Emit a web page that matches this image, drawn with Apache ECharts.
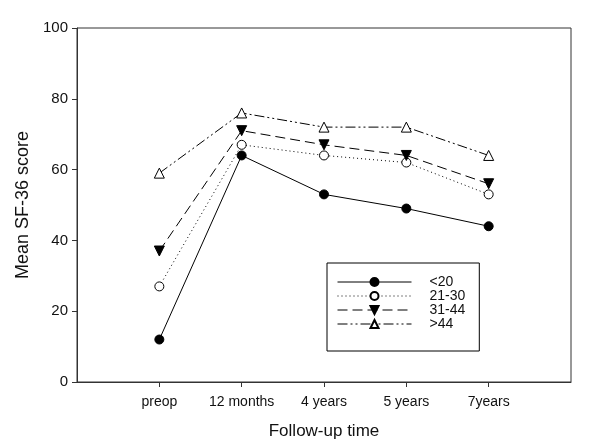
<!DOCTYPE html>
<html><head><meta charset="utf-8">
<script src="https://cdn.jsdelivr.net/npm/echarts@6/dist/echarts.min.js"></script>
<style>html,body{margin:0;padding:0;background:#fff}#c{width:600px;height:445px}</style>
</head><body><div id="c"></div>
<script>
var categories = ['', 'preop', '12 months', '4 years', '5 years', '7years', ''];
var seriesNames = ['<20', '21-30', '31-44', '>44'];
var lt20 = [null, 12, 64, 53, 49, 44, null];
var g21_30 = [null, 27, 67, 64, 62, 53, null];
var g31_44 = [null, 37, 71, 67, 64, 56, null];
var gt44 = [null, 59, 76, 72, 72, 64, null];
var yTicks = [0, 20, 40, 60, 80, 100];

var font = 'Liberation Sans, Arial, sans-serif';
var chart = echarts.init(document.getElementById('c'));
function mk(name, data, symbol, fill, dash, rotate, size) {
  return {
    name: name, type: 'line', data: data, symbol: symbol, symbolSize: size,
    symbolRotate: rotate, showAllSymbol: true, connectNulls: false,
    lineStyle: {color: '#000', width: 1, type: dash},
    itemStyle: {color: fill, borderColor: '#000', borderWidth: 1},
    emphasis: {disabled: true}, animation: false
  };
}
chart.setOption({
  animation: false,
  grid: {left: 77, top: 28, right: 29, bottom: 62, show: true, borderColor: '#333', borderWidth: 1},
  xAxis: {
    type: 'category', data: categories, boundaryGap: false,
    name: 'Follow-up time', nameLocation: 'middle', nameGap: 41,
    nameTextStyle: {fontFamily: font, fontSize: 17, color: '#111'},
    axisLine: {lineStyle: {color: '#333'}},
    axisTick: {length: 5, lineStyle: {color: '#333'}, interval: function (i, v) { return v !== ''; }},
    axisLabel: {interval: 0, margin: 13, fontFamily: font, fontSize: 14, color: '#111'},
    splitLine: {show: false}
  },
  yAxis: {
    type: 'value', min: 0, max: 100, interval: 20,
    name: 'Mean SF-36 score', nameLocation: 'middle', nameGap: 45,
    nameTextStyle: {fontFamily: font, fontSize: 18, color: '#111'},
    axisLine: {show: true, lineStyle: {color: '#333'}},
    axisTick: {show: true, length: 5, lineStyle: {color: '#333'}},
    axisLabel: {margin: 9, fontFamily: font, fontSize: 15, color: '#111',
      formatter: function (v) { return yTicks.indexOf(v) >= 0 ? String(v) : ''; }},
    splitLine: {show: false}
  },
  legend: {
    orient: 'vertical', left: 327, top: 263,
    padding: [12, 14, 20, 10], itemGap: 0, itemWidth: 74, itemHeight: 10,
    borderColor: '#000', borderWidth: 1,
    lineStyle: {width: 1},
    textStyle: {fontFamily: font, fontSize: 14, color: '#111', width: 35, padding: [0, 0, 0, 13]},
    data: seriesNames
  },
  series: [
    mk(seriesNames[0], lt20, 'circle', '#000', 'solid', 0, 9),
    mk(seriesNames[1], g21_30, 'circle', '#fff', [1, 3], 0, 9),
    mk(seriesNames[2], g31_44, 'triangle', '#000', [10, 5], 180, 10),
    mk(seriesNames[3], gt44, 'triangle', '#fff', [10, 3, 2, 3, 2, 3], 0, 10)
  ]
});
</script></body></html>
